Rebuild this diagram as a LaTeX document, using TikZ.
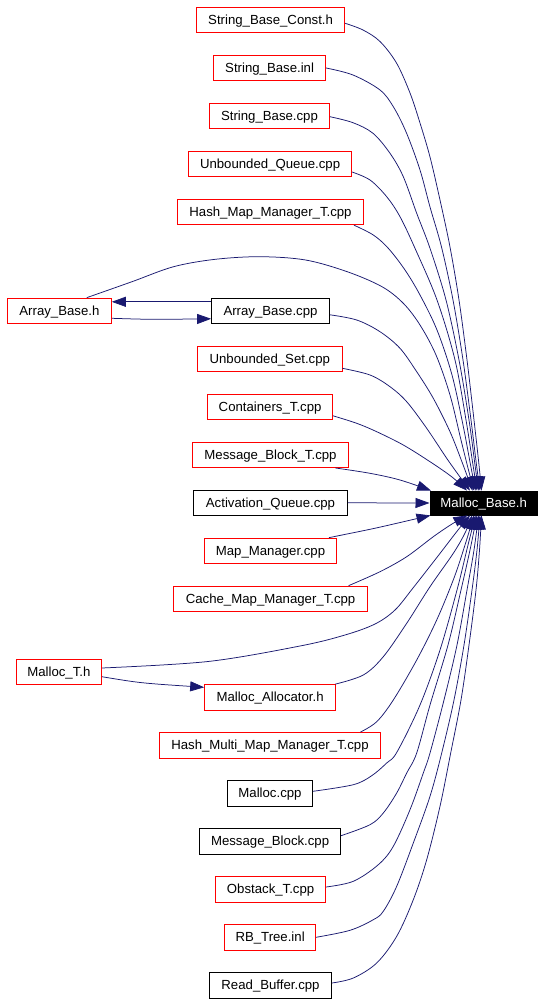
\documentclass[tikz,border=0pt]{standalone}
\usepackage{fontspec}
\setmainfont{Liberation Sans}
\usetikzlibrary{arrows.meta}
\definecolor{edgec}{HTML}{191970}
\definecolor{boxred}{HTML}{FF0000}
\begin{document}
\begin{tikzpicture}[x=1pt,y=-1pt,
  box/.style={draw=boxred, line width=0.8pt, minimum height=25.5pt, inner sep=0pt,
    font=\fontsize{13.2}{15}\selectfont, text height=10.5pt, text depth=2pt, text=black},
  blk/.style={box, draw=black},
  target/.style={box, draw=black, fill=black, text=white},
  edge/.style={draw=edgec, line width=0.75pt, -{Triangle[length=14pt,width=10pt]}},
  sm/.style={smooth, tension=0.55}]
\fill[white] (0,0) rectangle (544,1003);
\useasboundingbox (0,0) rectangle (544,1003);

% nodes
\node[box, minimum width=148.3pt] (sbc) at (270.6,19.8) {String\_Base\_Const.h};
\node[box, minimum width=112.2pt] (sbi) at (269.6,68) {String\_Base.inl};
\node[box, minimum width=120pt] (sbcpp) at (269.5,116) {String\_Base.cpp};
\node[box, minimum width=163pt] (uq) at (270.1,164) {Unbounded\_Queue.cpp};
\node[box, minimum width=186pt] (hmm) at (270.5,212) {Hash\_Map\_Manager\_T.cpp};
\node[box, minimum width=104pt] (abh) at (59.4,310.8) {Array\_Base.h};
\node[blk, minimum width=118pt] (abcpp) at (270.5,310.8) {Array\_Base.cpp};
\node[box, minimum width=144.4pt] (us) at (269.8,358.8) {Unbounded\_Set.cpp};
\node[box, minimum width=125pt] (ct) at (270.1,406.8) {Containers\_T.cpp};
\node[box, minimum width=156pt] (mbt) at (270.5,454.8) {Message\_Block\_T.cpp};
\node[blk, minimum width=154pt] (aq) at (270.5,502.8) {Activation\_Queue.cpp};
\node[target, minimum width=107.6pt, minimum height=24pt] (mb) at (483.7,503) {Malloc\_Base.h};
\node[box, minimum width=132pt] (mm) at (270.5,550.8) {Map\_Manager.cpp};
\node[box, minimum width=194pt] (cmm) at (270.6,598.8) {Cache\_Map\_Manager\_T.cpp};
\node[box, minimum width=85pt] (mt) at (58.9,671.8) {Malloc\_T.h};
\node[box, minimum width=131pt] (ma) at (270.1,697.3) {Malloc\_Allocator.h};
\node[box, minimum width=221pt] (hmmm) at (270,745.3) {Hash\_Multi\_Map\_Manager\_T.cpp};
\node[blk, minimum width=85pt] (mc) at (270,793.3) {Malloc.cpp};
\node[blk, minimum width=141pt] (mblk) at (270.1,841.3) {Message\_Block.cpp};
\node[box, minimum width=110pt] (ot) at (270.6,889.3) {Obstack\_T.cpp};
\node[box, minimum width=91pt] (rbt) at (270.1,937.3) {RB\_Tree.inl};
\node[blk, minimum width=122pt] (rbuf) at (270.5,985.3) {Read\_Buffer.cpp};

% top fan
\draw[edge] plot[sm] coordinates {([yshift=-3.5pt]sbc.east) (363,30) (380,41.5) (396.5,63) (410,93) (420,123) (430,157) (440,200) (450,247) (459,300) (467,360) (474,420) (479,465) ([xshift=-2.2pt]mb.north)};
\draw[edge] plot[sm] coordinates {(sbi.east) (353,75) (380,90) (393.5,107) (406.5,133) (420,170) (430,207) (441.5,247) (453,300) (463,360) (471,420) (476.5,465) ([xshift=-3.7pt]mb.north)};
\draw[edge] plot[sm] coordinates {([yshift=-0.7pt]sbcpp.east) (353,122.7) (373,133.3) (390,153.3) (403.3,176.7) (416.7,213.3) (430,248.3) (446,300) (459,360) (469,420) (475,465) ([xshift=-5.2pt]mb.north)};
\draw[edge] plot[sm] coordinates {([yshift=-8pt]uq.east) (370,180) (386.7,196.7) (400,216.7) (415,248.3) (437,300) (455,360) (466,420) (473,465) ([xshift=-6.7pt]mb.north)};
\draw[edge] plot[sm] coordinates {([xshift=-10pt]hmm.south east) (373.3,235) (388.3,248.3) (405,270) (420,295) (437,330) (452,375) (463,425) (470,462) ([xshift=-8.2pt]mb.north)};
\draw[edge] plot[sm] coordinates {([xshift=27.4pt]abh.north) (132,281.7) (173.6,266.7) (215.3,259.3) (260.4,256.7) (305.6,260) (347.2,271.7) (382,286.7) (403.3,303.3) (420,325) (436,355) (450,395) (461,440) (469,472) ([xshift=-9.7pt]mb.north)};
\draw[edge] plot[sm] coordinates {([yshift=-4pt]abcpp.east) (356.7,320) (380,331.7) (400,348.3) (416.7,371.7) (433.3,398.3) (450,431.7) (462,462) ([xshift=-11.2pt]mb.north)};
\draw[edge] plot[sm] coordinates {([yshift=-9.5pt]us.east) (370,375) (390,386.7) (406.7,401.7) (426.7,428.3) (446.7,458.3) (460,477) ([xshift=-13.7pt]mb.north)};
\draw[edge] plot[sm] coordinates {([yshift=-9pt]ct.east) (356.7,423.3) (376.7,431.7) (403.3,445) (430,461.7) (452,477) ([xshift=-16.7pt]mb.north)};
\draw[edge] plot[sm] coordinates {([xshift=-13.6pt]mbt.south east) (370,473.3) (400,480) ([xshift=1.5pt]mb.north west)};
\draw[edge] (aq.east) -- (mb.west);

% bottom fan
\draw[edge] plot[sm] coordinates {([xshift=-8pt]mm.north east) (370,529.3) (396.7,523.3) ([xshift=1pt]mb.south west)};
\draw[edge] plot[sm] coordinates {([xshift=-19.4pt]cmm.north east) (380,571.7) (406.7,556.7) (433.3,536.7) (452,524) ([xshift=-16.2pt]mb.south)};
\draw[edge] plot[sm] coordinates {([yshift=3.8pt]mt.east) (208,661.5) (300,646) (345,635) (375,624) (395,610) (413,588) (438,556) (458,530) ([xshift=-13.7pt]mb.south)};
\draw[edge] plot[sm] coordinates {([xshift=-0.8pt]ma.north east) (363.3,675) (383.3,656.7) (406.7,623.3) (430,586.7) (453.3,553.3) (465,533) ([xshift=-11.7pt]mb.south)};
\draw[edge] plot[sm] coordinates {([xshift=-20.6pt]hmmm.north east) (376.7,721.7) (393.3,700) (416.7,660) (436.7,620) (454,578) (465,545) ([xshift=-9.7pt]mb.south)};
\draw[edge] plot[sm] coordinates {([yshift=2pt]mc.east) (353.3,784.7) (371.7,775.7) (386.7,763) (397,752) (420,705) (440,650) (457,590) (468,545) ([xshift=-8.2pt]mb.south)};
\draw[edge] plot[sm] coordinates {([yshift=5.6pt]mblk.east) (370,824.7) (383.3,813) (396.7,793) (406.7,773) (416.7,753) (430,705) (448,645) (461,590) (470,550) ([xshift=-6.7pt]mb.south)};
\draw[edge] plot[sm] coordinates {([yshift=2.3pt]ot.east) (353.3,881.3) (378.3,864.7) (393.3,846.3) (410,809.7) (423.3,773) (430,753) (444,700) (457,645) (467,590) (474,550) ([xshift=-5.2pt]mb.south)};
\draw[edge] plot[sm] coordinates {(rbt.east) (350,930.3) (373.3,919.7) (383.3,911.3) (396.7,886.3) (413.3,843) (430,796.3) (441.7,753) (454,700) (464,645) (472,590) (477,550) ([xshift=-3.7pt]mb.south)};
\draw[edge] plot[sm] coordinates {([yshift=2.3pt]rbuf.east) (353.3,978) (376.7,963) (396.7,936.3) (413.3,899.7) (426.7,859.7) (440,806.3) (450.7,753) (461,700) (469,645) (476,590) (479.5,550) ([xshift=-2.2pt]mb.south)};

% side edges
\draw[edge] ([yshift=9pt]abcpp.west) -- ([yshift=9pt]abh.east);
\draw[edge] ([yshift=-7.5pt]abh.east) .. controls (150,319.5) .. ([yshift=-8pt]abcpp.west);
\draw[edge] ([yshift=-4.9pt]mt.east) .. controls (140,683) .. ([yshift=10pt]ma.west);
\end{tikzpicture}
\end{document}
